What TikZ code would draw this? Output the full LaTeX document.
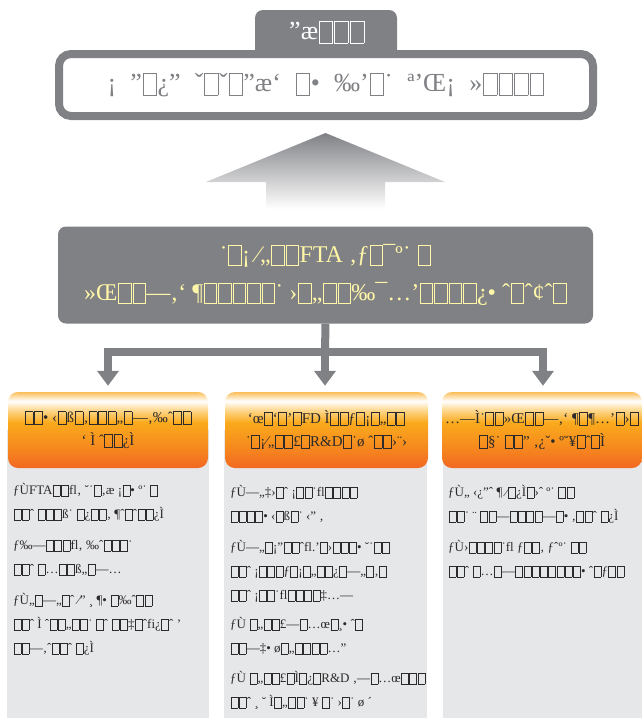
\documentclass[tikz,border=0pt]{standalone}
\usepackage{fontspec}
\setmainfont{Liberation Serif}
\usetikzlibrary{arrows.meta,shadings}
\definecolor{dg}{RGB}{128,129,133}
\definecolor{pan}{RGB}{230,231,232}
\definecolor{ylw}{RGB}{255,246,168}
\definecolor{txt}{RGB}{45,42,43}
\definecolor{oA}{RGB}{242,104,33}
\definecolor{oB}{RGB}{246,140,30}
\definecolor{oC}{RGB}{250,170,28}
\definecolor{oD}{RGB}{253,215,140}
\definecolor{oE}{RGB}{251,190,90}
\pgfdeclareverticalshading{hdrshade}{100bp}{color(0bp)=(oA); color(25bp)=(oA); color(40bp)=(oB); color(55bp)=(oC); color(63bp)=(oD); color(69bp)=(white); color(75bp)=(oE); color(100bp)=(oE)}
\newcommand\tofu{\kern.03em\begingroup\fboxsep=0pt\fboxrule=.5pt\raisebox{-.12em}{\fbox{\rule{0pt}{.84em}\hspace{.5em}}}\endgroup\kern.03em}
\catcode`□=\active
\def□{\tofu}
\tikzset{
  conn/.style={draw=dg, line width=8pt},
  hdrbox/.style={shading=hdrshade, rounded corners=10pt, minimum width=200pt, minimum height=76pt, inner sep=0pt, align=center, text=txt, font=\fontsize{15}{23}\selectfont},
  bodytext/.style={anchor=north west, inner sep=0pt, align=left, text=txt, font=\fontsize{13}{24}\selectfont},
  tip/.style={-{Triangle[width=21pt,length=15pt]}}
}
\begin{document}
\begin{tikzpicture}[x=1pt,y=-1pt]
\useasboundingbox (0,0) rectangle (642,718);
% top tab and frame
\fill[dg, rounded corners=8pt] (255,10) rectangle (397,58);
\node[text=white, font=\fontsize{26}{26}\selectfont, inner sep=0pt] (tabt) at (327,32) {”æ□□□};
\node[draw=dg, line width=8pt, fill=white, rounded corners=12pt, minimum width=534pt, minimum height=62pt, inner sep=0pt, text=dg, font=\fontsize{26}{26}\selectfont] (frame) at (326,85) {\spaceskip=.55em\relax ¡ ”□¿” ˇ□ ˇ□”æ` □• ‰’□˙ ª’Œ¡ »□□□□};
% big arrow
\shade[top color=dg, middle color=dg!55!white, bottom color=white] (325.5,133) -- (445,182) -- (385,182) -- (385,209) -- (266,209) -- (266,182) -- (206,182) -- cycle;
% middle box
\node[fill=dg, rounded corners=8pt, minimum width=535pt, minimum height=97pt, inner sep=0pt, align=center, text=ylw, font=\fontsize{24}{38}\selectfont] (mid) at (325.5,275) {˙□¡ ⁄„□□FTA ‚ƒ□¯º˙ □\\»Œ□□—‚` ¶□□□□□˙ ›□„□□‰¯…’□□□□¿• ˆ□ˆ¢ˆ□};
% panels
\fill[pan] (7,430) rectangle (209,718);
\fill[pan] (224,430) rectangle (427,718);
\fill[pan] (443,430) rectangle (642,718);
% headers
\node[hdrbox] (h1) at (108,430) {□□• ‹□ß□ ‚□□□„□—‚‰ˆ□□\\` Ì ˆ□ □¿Ì};
\node[hdrbox, minimum width=203pt] (h2) at (326.5,430) {`œ□ `□’□FD Ì□□ƒ□ ¡□„□□\\˙□¡⁄„□□£□R\&D□˙ø ˆ□□ ›¨›};
\node[hdrbox] (h3) at (542,430) {…—Ì˙□□»Œ□□—‚` ¶□ ¶…’□›□\\□§˙ □□” ‚¿ˇ• º˘¥□ˆ□ Ì};
% connectors
\coordinate (jc) at (325,352);
\coordinate (jl) at (108,352);
\coordinate (jr) at (543,352);
\draw[conn] (mid.south) -- (jc);
\draw[conn, line cap=rect] (jl) -- (jr);
\draw[conn, tip, shorten >=6pt] (jl) -- (jl |- h1.north);
\draw[conn, tip, shorten >=6pt] (jc) -- (jc |- h2.north);
\draw[conn, tip, shorten >=6pt] (jr) -- (jr |- h3.north);
% body texts
\node[bodytext] (b1) at (13,483) {ƒÙFTA□□fl‚ ˘˙□‚æ ¡□• º˙ □\\□□ˆ □ □□ß˙ □¿□□‚ ¶ˆ□ ˆ□ □¿Ì\\[7pt]ƒ‰—□□□fl‚ ‰ˆ□□□˙\\□□ˆ □…□□ß„□—…\\[7pt]ƒÙ„□—„□ˆ ⁄” ¸ ¶• □‰ˆ□□\\□□ˆ Ì ˆ□□„□□˙ □ˆ □□‡□ˆfi¿□ˆ '\\□□—‚ˆ□□ˆ □¿Ì};
\node[bodytext] (b2) at (230,485) {ƒÙ—„‡›□ˆ ¡□□˙fl□□□ □\\□□□□• ‹□ß□˙ ‹” ‚\\[7pt]ƒÙ—„□ ¡”□□ˆfl.’□›□□□• ˘˙□□\\□□ˆ ¡□□□ƒ□ ¡□„□□¿□—„□ ‚□\\□□ˆ ¡□□˙fl□□□□ ‡…—\\[5pt]ƒÙ □„□□£—□…œ□ ¸• ˆ□\\□□—‡• ø□„□□□□…”\\[6pt]ƒÙ □„□□£□Ì□¿□R\&D ‚—□…œ□□□\\□□ˆ ¸ ˘ Ì□„□□˙ ¥ □˙ ›□˙ ø ´};
\node[bodytext] (b3) at (448,485) {ƒÙ„ ‹¿”ˆ ¶ ⁄□¿Ì□ ›ˆ º˙ □□\\□□˙ ¨ □□—□□□□—□• ‚□□ˆ □¿Ì\\[7pt]ƒÙ›□□□□˙fl ƒ□□‚ ƒˆº˙ □□\\□□ˆ □…□—□□□□□□□□• ˆ□ƒ□□};
\end{tikzpicture}
\end{document}
